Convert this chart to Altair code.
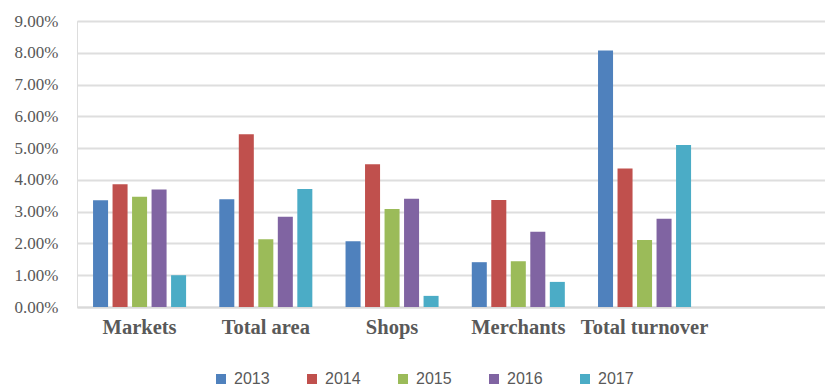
import altair as alt
import pandas as pd

# Annual growth rates by indicator and year
categories = ["Markets", "Total area", "Shops", "Merchants", "Total turnover"]
years = ["2013", "2014", "2015", "2016", "2017"]
rates = {
    "2013": [3.36, 3.39, 2.07, 1.41, 8.07],
    "2014": [3.86, 5.44, 4.49, 3.37, 4.36],
    "2015": [3.47, 2.13, 3.08, 1.44, 2.11],
    "2016": [3.70, 2.84, 3.41, 2.37, 2.78],
    "2017": [1.00, 3.71, 0.35, 0.79, 5.10],
}
colors = ["#4F81BD", "#C0504D", "#9BBB59", "#8064A2", "#4BACC6"]

rows = []
for y in years:
    for c, v in zip(categories, rates[y]):
        rows.append({"category": c, "year": y, "rate": v / 100})
df = pd.DataFrame(rows)

chart = (
    alt.Chart(df)
    .mark_bar()
    .encode(
        x=alt.X(
            "category:N",
            sort=categories,
            title=None,
            scale=alt.Scale(paddingInner=0.263, paddingOuter=0.594, align=0.107),
            axis=alt.Axis(
                labelAngle=0,
                labelFont="Liberation Serif",
                labelFontWeight="bold",
                labelFontSize=20.5,
                labelColor="#595959",
                labelPadding=10,
                ticks=False,
                domainColor="#d9d9d9",
                domainWidth=2,
            ),
        ),
        xOffset=alt.XOffset(
            "year:N", sort=years, scale=alt.Scale(paddingInner=0.23, paddingOuter=0)
        ),
        y=alt.Y(
            "rate:Q",
            title=None,
            scale=alt.Scale(domain=[0, 0.09], nice=False),
            axis=alt.Axis(
                format=".2%",
                values=[i / 100 for i in range(10)],
                labelFont="Liberation Serif",
                labelFontSize=17,
                labelColor="#595959",
                labelPadding=19,
                ticks=False,
                domain=False,
                gridColor="#dedede",
                gridWidth=2,
            ),
        ),
        color=alt.Color(
            "year:N",
            sort=years,
            scale=alt.Scale(domain=years, range=colors),
            legend=alt.Legend(
                title=None,
                orient="none",
                direction="horizontal",
                legendX=136,
                legendY=350,
                symbolType="square",
                symbolSize=100,
                symbolStrokeWidth=0,
                labelFont="Liberation Sans",
                labelFontSize=16,
                labelColor="#595959",
                labelOffset=5,
                columnPadding=34,
            ),
        ),
    )
    .properties(
        width=748,
        height=286,
        autosize=alt.AutoSizeParams(type="none"),
        padding={"left": 77, "top": 21, "right": 0, "bottom": 80},
    )
    .configure_view(stroke=None)
    .configure(background="white")
)

chart.save("out.html", embed_options={"renderer": "svg", "actions": False})
